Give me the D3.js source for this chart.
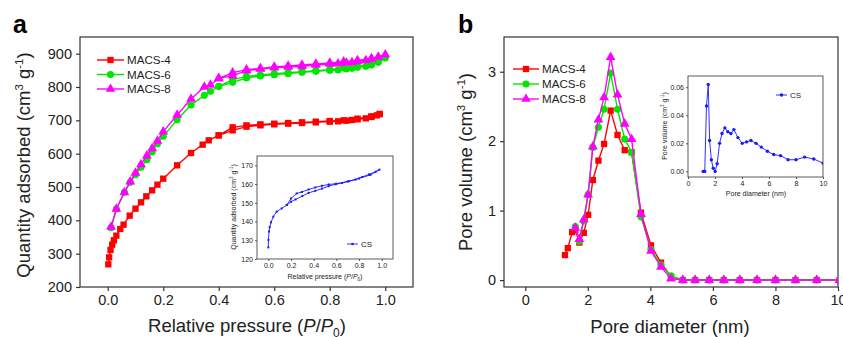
<!DOCTYPE html>
<html>
<head>
<meta charset="utf-8">
<script src="https://cdn.jsdelivr.net/npm/d3@7"></script>
<style>
  body { margin: 0; background: #fff; }
  svg { font-family: "Liberation Sans", Arial, sans-serif; }
</style>
</head>
<body>
<svg id="chart" width="843" height="337"></svg>
<script>
// ---------- Data: panel a (N2 isotherms) ----------
const adsP4 = [0.002, 0.005, 0.01, 0.016, 0.022, 0.031, 0.045, 0.057, 0.079, 0.1, 0.12, 0.139, 0.16, 0.179, 0.2, 0.25, 0.3, 0.342, 0.364, 0.4, 0.45, 0.5, 0.55, 0.6, 0.65, 0.7, 0.75, 0.8, 0.83, 0.86, 0.88, 0.9, 0.93, 0.95, 0.97, 0.98];
const adsQ4 = [268, 289, 311, 327, 340, 354, 374, 387, 414, 435, 454, 472, 490, 507, 525, 565, 602, 627, 640, 655, 670, 681, 685, 688, 690, 692, 694, 696, 697, 699, 701, 703, 706, 710, 715, 719];
const desP4 = [0.98, 0.95, 0.9, 0.85, 0.8, 0.75, 0.7, 0.65, 0.6, 0.55, 0.5, 0.45, 0.4];
const desQ4 = [719, 712, 705, 700, 698, 696, 694, 692, 690, 688, 685, 679, 655];

const adsP68 = [0.012, 0.031, 0.06, 0.081, 0.1, 0.12, 0.141, 0.16, 0.179, 0.2, 0.25, 0.3, 0.348, 0.37, 0.4, 0.45, 0.5, 0.55, 0.6, 0.65, 0.7, 0.75, 0.8, 0.83, 0.86, 0.88, 0.9, 0.93, 0.95, 0.975, 1.0];
const adsQ6 = [378, 434, 484, 514, 537, 559, 582, 605, 630, 652, 702, 746, 775, 787, 802, 814, 827, 833, 837, 840, 844, 847, 850, 851, 854, 856, 859, 862, 866, 874, 887];
const adsQ8 = [380, 434, 484, 516, 542, 568, 594, 616, 638, 666, 716, 764, 800, 806, 826, 834, 849, 854, 858, 860, 862, 866, 869, 870, 872, 874, 877, 880, 884, 890, 897];
const desP68 = [0.95, 0.9, 0.85, 0.8, 0.75, 0.7, 0.65, 0.6, 0.55, 0.5, 0.45, 0.4];
const desQ6 = [868, 862, 857, 852, 849, 846, 843, 840, 836, 832, 822, 802];
const desQ8 = [886, 880, 876, 872, 869, 866, 863, 860, 856, 852, 843, 826];

// inset a: CS
const adsPcs = [0, 0.001, 0.006, 0.012, 0.024, 0.044, 0.074, 0.118, 0.163, 0.2, 0.24, 0.3, 0.355, 0.414, 0.473, 0.533, 0.592, 0.651, 0.71, 0.769, 0.828, 0.888, 0.947, 0.98];
const adsQcs = [126.2, 130.2, 134.7, 137, 139.6, 142.6, 145.3, 147, 148.8, 150.6, 151.8, 153.6, 155.3, 156.4, 157.6, 158.9, 159.9, 160.6, 161.5, 162.4, 163.8, 165.2, 166.6, 167.7];
const desPcs = [0.9, 0.8, 0.7, 0.6, 0.533, 0.473, 0.414, 0.355, 0.296, 0.25, 0.2, 0.163];
const desQcs = [164.9, 163.0, 161.4, 160.2, 159.8, 159.1, 158.2, 157.1, 155.8, 155.0, 152.3, 148.9];

// ---------- Data: panel b (pore size distribution) ----------
const diam4 = [1.27, 1.36, 1.5, 1.6, 1.73, 1.87, 2.01, 2.16, 2.34, 2.52, 2.73, 2.95, 3.18, 3.4, 3.7, 4.02, 4.34, 4.66, 5.04, 5.43, 5.88, 6.35, 6.86, 7.41, 8.0, 8.64, 9.32, 10.05];
const vol4 = [0.36, 0.46, 0.69, 0.72, 0.54, 0.68, 0.94, 1.44, 1.72, 1.96, 2.44, 2.09, 1.87, 1.84, 0.97, 0.50, 0.25, 0.05, 0, 0, 0, 0, 0, 0, 0, 0, 0, 0];
const diam68 = [1.6, 1.73, 1.87, 2.01, 2.16, 2.34, 2.52, 2.73, 2.95, 3.18, 3.4, 3.7, 4.02, 4.34, 4.66, 5.04, 5.43, 5.88, 6.35, 6.86, 7.41, 8.0, 8.64, 9.32, 10.05];
const vol6 = [0.77, 0.56, 0.85, 1.23, 1.91, 2.2, 2.46, 2.98, 2.46, 2.03, 1.84, 0.91, 0.44, 0.22, 0.06, 0, 0, 0, 0, 0, 0, 0, 0, 0, 0];
const vol8 = [0.75, 0.59, 0.87, 1.23, 1.92, 2.31, 2.63, 3.21, 2.67, 2.25, 2.03, 0.95, 0.42, 0.19, 0.02, 0, 0, 0, 0, 0, 0, 0, 0, 0, 0];

// inset b: CS
const diamCs = [1.12, 1.24, 1.37, 1.5, 1.6, 1.73, 1.87, 2.01, 2.16, 2.34, 2.52, 2.73, 2.95, 3.18, 3.4, 3.7, 4.02, 4.34, 4.66, 5.04, 5.43, 5.88, 6.35, 6.86, 7.41, 8.0, 8.64, 9.32, 10.0];
const volCs = [0, 0, 0.0466, 0.062, 0.022, 0.0083, 0.0022, 0, 0.0054, 0.020, 0.027, 0.031, 0.0283, 0.027, 0.0298, 0.0241, 0.020, 0.021, 0.022, 0.020, 0.0173, 0.0144, 0.012, 0.0112, 0.0083, 0.0083, 0.0102, 0.0088, 0.0059];

const seriesNames = ["MACS-4", "MACS-6", "MACS-8"];
const seriesColors = ["#ff0000", "#00e600", "#ff00ff"];
const seriesSymbols = [d3.symbolSquare, d3.symbolCircle, d3.symbolTriangle];

const xTicksA = [0, 0.2, 0.4, 0.6, 0.8, 1.0];
const yTicksA = [200, 300, 400, 500, 600, 700, 800, 900];
const xTicksB = [0, 2, 4, 6, 8, 10];
const yTicksB = [0, 1, 2, 3];

const zip = (xs, ys) => xs.map((x, i) => [x, ys[i]]);

const svg = d3.select("#chart");
const axisColor = "#333";

// generic frame + axes
function frame(g, x, y, opts) {
  const [x0, x1] = x.range();
  const [y0, y1] = y.range();
  const xAxis = d3.axisBottom(x).tickValues(opts.xTicks).tickFormat(opts.xFmt)
    .tickSize(opts.tick).tickSizeOuter(0).tickPadding(opts.pad);
  const yAxis = d3.axisLeft(y).tickValues(opts.yTicks).tickFormat(opts.yFmt)
    .tickSize(opts.tick).tickSizeOuter(0).tickPadding(opts.pad);
  const gx = g.append("g").attr("transform", `translate(0,${y0})`).call(xAxis);
  const gy = g.append("g").attr("transform", `translate(${x0},0)`).call(yAxis);
  [gx, gy].forEach((a) => {
    a.select(".domain").remove();
    a.selectAll("line").attr("stroke", axisColor).attr("stroke-width", opts.sw);
    a.selectAll("text").attr("fill", "#222").style("font-size", opts.font + "px")
      .style("font-family", "Liberation Sans, Arial, sans-serif");
  });
  g.append("rect")
    .attr("x", x0).attr("y", y1)
    .attr("width", x1 - x0).attr("height", y0 - y1)
    .attr("fill", "none").attr("stroke", axisColor).attr("stroke-width", opts.sw);
}

function drawSeries(g, pts, color, symbol, size, lw, clipId) {
  const line = d3.line().x((d) => d[0]).y((d) => d[1]);
  const gg = g.append("g");
  if (clipId) gg.attr("clip-path", `url(#${clipId})`);
  gg.append("path").attr("d", line(pts)).attr("fill", "none")
    .attr("stroke", color).attr("stroke-width", lw).attr("stroke-linejoin", "round");
  gg.selectAll("path.m").data(pts).join("path").attr("class", "m")
    .attr("transform", (d) => `translate(${d[0]},${d[1]})`)
    .attr("d", d3.symbol().type(symbol).size(size)).attr("fill", color);
}

function legend(g, x, y, dy, names, colors, symbols, size, lw, font, len) {
  names.forEach((n, i) => {
    const yy = y + i * dy;
    g.append("line").attr("x1", x).attr("x2", x + len).attr("y1", yy).attr("y2", yy)
      .attr("stroke", colors[i]).attr("stroke-width", lw);
    g.append("path").attr("transform", `translate(${x + len / 2},${yy})`)
      .attr("d", d3.symbol().type(symbols[i]).size(size)).attr("fill", colors[i]);
    g.append("text").attr("x", x + len + 3).attr("y", yy).attr("dy", "0.36em")
      .style("font-size", font + "px").attr("fill", "#222").text(n);
  });
}

function yTitle(g, cx, cy, font, main, supScale) {
  const t = g.append("text").attr("transform", `translate(${cx},${cy}) rotate(-90)`)
    .attr("text-anchor", "middle").style("font-size", font + "px").attr("fill", "#222");
  t.append("tspan").text(main + " (cm");
  t.append("tspan").attr("dy", -font * 0.4).style("font-size", font * supScale + "px").text("3");
  t.append("tspan").attr("dy", font * 0.4).text(" g");
  t.append("tspan").attr("dy", -font * 0.4).style("font-size", font * supScale + "px").text("-1");
  t.append("tspan").attr("dy", font * 0.4).text(")");
}

function pTitle(g, cx, y, font) {
  const t = g.append("text").attr("x", cx).attr("y", y).attr("text-anchor", "middle")
    .style("font-size", font + "px").attr("fill", "#222");
  t.append("tspan").text("Relative pressure (");
  t.append("tspan").style("font-style", "italic").text("P");
  t.append("tspan").text("/");
  t.append("tspan").style("font-style", "italic").text("P");
  t.append("tspan").attr("dy", font * 0.25).style("font-size", font * 0.65 + "px").text("0");
  t.append("tspan").attr("dy", -font * 0.25).text(")");
}

// ================= Panel a =================
const xA = d3.scaleLinear().domain([-0.1, 1.1]).range([80, 413]);
const yA = d3.scaleLinear().domain([200, 950]).range([287, 37]);
const gA = svg.append("g");
frame(gA, xA, yA, { xTicks: xTicksA, yTicks: yTicksA, xFmt: d3.format(".1f"), yFmt: d3.format("d"), tick: 4, pad: 4, sw: 1.2, font: 14.5 });

const isoA = [
  zip(adsP4, adsQ4).concat(zip(desP4, desQ4)),
  zip(adsP68, adsQ6).concat(zip(desP68, desQ6)),
  zip(adsP68, adsQ8).concat(zip(desP68, desQ8))
];
isoA.forEach((s, i) => {
  const pts = s.map((d) => [xA(d[0]), yA(d[1])]);
  drawSeries(gA, pts, seriesColors[i], seriesSymbols[i], i === 2 ? 42 : 40, 1.4);
});
legend(gA, 97, 60, 14.5, seriesNames, seriesColors, seriesSymbols, 40, 1.4, 11.6, 27);
pTitle(gA, 247, 332, 18.5);
yTitle(gA, 30, 165, 18.5, "Quantity adsorbed", 0.62);
gA.append("text").attr("x", 13).attr("y", 33).style("font-size", "25px").style("font-weight", "bold").text("a");

// inset a
const xAi = d3.scaleLinear().domain([-0.1, 1.1]).range([257, 393]);
const yAi = d3.scaleLinear().domain([120, 175]).range([259, 156]);
const gAi = svg.append("g");
gAi.append("rect").attr("x", 257).attr("y", 156).attr("width", 136).attr("height", 103).attr("fill", "#fff");
frame(gAi, xAi, yAi, { xTicks: xTicksA, yTicks: [120, 130, 140, 150, 160, 170], xFmt: d3.format(".1f"), yFmt: d3.format("d"), tick: 2, pad: 2, sw: 0.8, font: 7 });
const csA = zip(adsPcs, adsQcs).concat(zip(desPcs, desQcs)).map((d) => [xAi(d[0]), yAi(d[1])]);
drawSeries(gAi, csA, "#1a1aff", d3.symbolSquare, 4, 0.9);
legend(gAi, 347, 244, 0, ["CS"], ["#1a1aff"], [d3.symbolSquare], 5, 0.9, 8, 11);
pTitle(gAi, 325, 279, 7);
yTitle(gAi, 236, 207, 7, "Quantity adsorbed", 0.65);

// ================= Panel b =================
const xB = d3.scaleLinear().domain([-0.68, 10]).range([504, 838]);
const yB = d3.scaleLinear().domain([-0.1, 3.5]).range([287, 37]);
const gB = svg.append("g");
svg.append("clipPath").attr("id", "clipB").append("rect")
  .attr("x", 504).attr("y", 37).attr("width", 334).attr("height", 250);
frame(gB, xB, yB, { xTicks: xTicksB, yTicks: yTicksB, xFmt: d3.format("d"), yFmt: d3.format("d"), tick: 4, pad: 4, sw: 1.2, font: 14.5 });
const psd = [zip(diam4, vol4), zip(diam68, vol6), zip(diam68, vol8)];
psd.forEach((s, i) => {
  const pts = s.map((d) => [xB(d[0]), yB(d[1])]);
  drawSeries(gB, pts, seriesColors[i], seriesSymbols[i], i === 2 ? 42 : 40, 1.4, "clipB");
});
legend(gB, 513, 69, 15, seriesNames, seriesColors, seriesSymbols, 40, 1.4, 11.6, 26);
gB.append("text").attr("x", 670).attr("y", 333).attr("text-anchor", "middle")
  .style("font-size", "18.5px").attr("fill", "#222").text("Pore diameter (nm)");
yTitle(gB, 472, 162, 18.5, "Pore volume", 0.62);
gB.append("text").attr("x", 458).attr("y", 33).style("font-size", "25px").style("font-weight", "bold").text("b");

// inset b
const xBi = d3.scaleLinear().domain([0, 10]).range([688, 823]);
const yBi = d3.scaleLinear().domain([-0.004, 0.068]).range([177, 76]);
const gBi = svg.append("g");
svg.append("clipPath").attr("id", "clipBi").append("rect")
  .attr("x", 688).attr("y", 76).attr("width", 135).attr("height", 101);
gBi.append("rect").attr("x", 688).attr("y", 76).attr("width", 135).attr("height", 101).attr("fill", "#fff");
frame(gBi, xBi, yBi, { xTicks: [0, 2, 4, 6, 8, 10], yTicks: [0, 0.02, 0.04, 0.06], xFmt: d3.format("d"), yFmt: d3.format(".2f"), tick: 2, pad: 2, sw: 0.8, font: 7 });
const csB = zip(diamCs, volCs).map((d) => [xBi(d[0]), yBi(d[1])]);
drawSeries(gBi, csB, "#1a1aff", d3.symbolCircle, 9, 0.9, "clipBi");
legend(gBi, 776, 95, 0, ["CS"], ["#1a1aff"], [d3.symbolCircle], 10, 0.9, 8, 11);
gBi.append("text").attr("x", 756).attr("y", 196).attr("text-anchor", "middle")
  .style("font-size", "7px").attr("fill", "#222").text("Pore diameter (nm)");
yTitle(gBi, 667, 126, 7, "Pore volume", 0.65);
</script>
</body>
</html>
